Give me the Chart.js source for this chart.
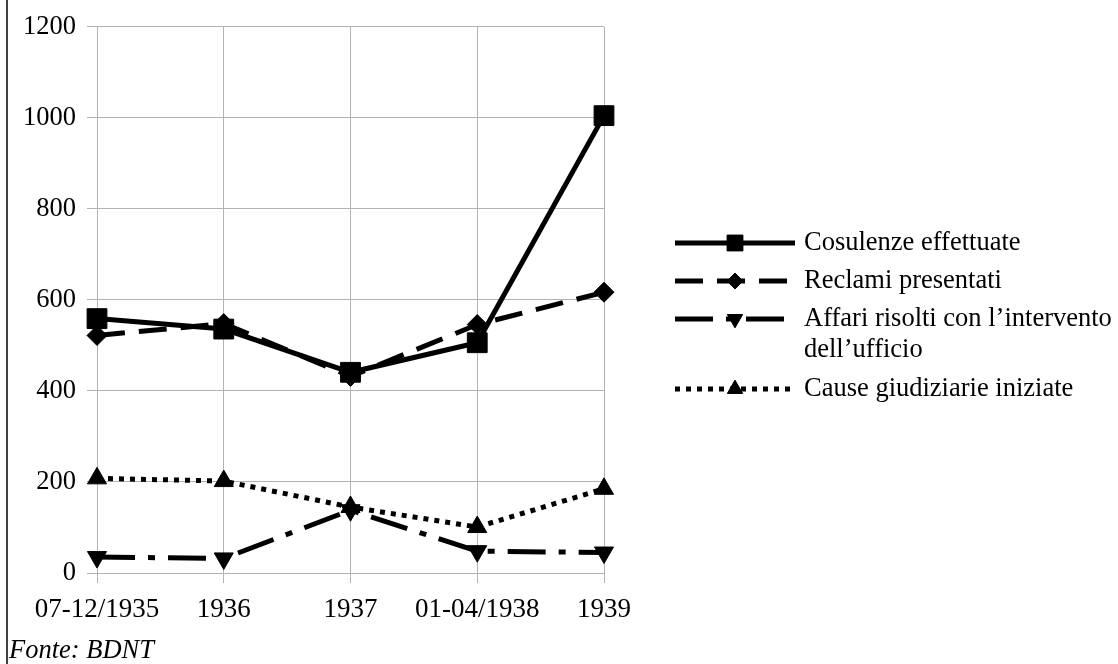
<!DOCTYPE html>
<html>
<head>
<meta charset="utf-8">
<script src="https://cdn.jsdelivr.net/npm/chart.js@4.4.1/dist/chart.umd.min.js"></script>
<style>
html,body{margin:0;padding:0;background:#fff;}
#wrap{position:relative;width:1118px;height:664px;}
</style>
</head>
<body>
<div id="wrap"><canvas id="c" width="1118" height="664"></canvas></div>
<script>
const categories = ["07-12/1935", "1936", "1937", "01-04/1938", "1939"];
const cosulenze = [559, 536, 441, 506, 1005];
const reclami = [522, 548, 432, 546, 617];
const affari = [35, 32, 138, 48, 45];
const cause = [208, 202, 145, 101, 185];
const seriesNames = ["Cosulenze effettuate", "Reclami presentati", ["Affari risolti con l\u2019intervento", "dell\u2019ufficio"], "Cause giudiziarie iniziate"];
const yTicks = [0, 200, 400, 600, 800, 1000, 1200];
const sourceNote = "Fonte: BDNT";

const FONT = "'Liberation Serif', 'Times New Roman', serif";
const styles = [
  {dash: [], style: 'rect', radius: 14, rotation: 0},
  {dash: [28, 14], style: 'rectRot', radius: 10, rotation: 0},
  {dash: [38, 13, 7, 13], style: 'triangle', radius: 11, rotation: 180},
  {dash: [5, 6], style: 'triangle', radius: 11, rotation: 0}
];
const seriesData = [cosulenze, reclami, affari, cause];

const datasets = seriesData.map((d, i) => ({
  label: Array.isArray(seriesNames[i]) ? seriesNames[i].join(' ') : seriesNames[i],
  data: d,
  borderColor: '#000',
  backgroundColor: '#000',
  borderWidth: 5,
  borderDash: styles[i].dash,
  borderCapStyle: 'butt',
  tension: 0,
  pointStyle: styles[i].style,
  pointRadius: styles[i].radius,
  pointRotation: styles[i].rotation,
  pointBorderWidth: 1,
  pointBackgroundColor: '#000',
  pointBorderColor: '#000'
}));

const legendPlugin = {
  id: 'customLegend',
  afterDraw(chart) {
    const ctx = chart.ctx;
    ctx.save();
    ctx.strokeStyle = '#000';
    ctx.lineWidth = 1.5;
    ctx.setLineDash([]);
    ctx.beginPath();
    ctx.moveTo(7, 0);
    ctx.lineTo(7, 664);
    ctx.stroke();

    const rows = [243, 281, 319, 389];
    const x0 = 675, x1 = 795, tx = 804;
    ctx.font = "26.5px " + FONT;
    ctx.textBaseline = 'middle';
    ctx.textAlign = 'left';
    ctx.fillStyle = '#000';
    seriesNames.forEach((name, i) => {
      const y = rows[i];
      ctx.strokeStyle = '#000';
      ctx.lineWidth = 5;
      ctx.lineCap = 'butt';
      ctx.setLineDash(styles[i].dash);
      ctx.beginPath();
      ctx.moveTo(x0, y);
      ctx.lineTo(x1, y);
      ctx.stroke();
      ctx.setLineDash([]);
      ctx.lineWidth = 1;
      ctx.fillStyle = '#000';
      Chart.helpers.drawPoint(ctx, {pointStyle: styles[i].style, rotation: styles[i].rotation, radius: styles[i].radius * 0.8, borderWidth: 1}, (x0 + x1) / 2, y);
      ctx.fill();
      const lines = Array.isArray(name) ? name : [name];
      lines.forEach((t, k) => ctx.fillText(t, tx, y + k * 31));
    });
    ctx.font = "italic 26.5px " + FONT;
    ctx.textBaseline = 'alphabetic';
    ctx.fillText(sourceNote, 9, 658);
    ctx.restore();
  }
};

new Chart(document.getElementById('c'), {
  type: 'line',
  data: {labels: categories, datasets: datasets},
  options: {
    responsive: false,
    animation: false,
    events: [],
    layout: {padding: {left: 0, right: 514, top: 26, bottom: 0}},
    plugins: {legend: {display: false}, tooltip: {enabled: false}},
    scales: {
      x: {
        offset: false,
        grid: {color: '#b3b3b3', lineWidth: 1, tickLength: 10, drawTicks: true},
        border: {color: '#b3b3b3'},
        ticks: {color: '#000', font: {family: FONT, size: 27}, padding: 11, maxRotation: 0, autoSkip: false},
        afterFit(axis) { axis.height = 91; }
      },
      y: {
        min: 0, max: 1200,
        afterBuildTicks(axis) { axis.ticks = yTicks.map(v => ({value: v})); },
        grid: {color: '#b3b3b3', lineWidth: 1, tickLength: 10},
        border: {color: '#b3b3b3'},
        ticks: {color: '#000', font: {family: FONT, size: 26.5}, padding: 11, callback: (v) => String(v)},
        afterFit(axis) { axis.width = 97; }
      }
    }
  },
  plugins: [legendPlugin]
});
</script>
</body>
</html>
